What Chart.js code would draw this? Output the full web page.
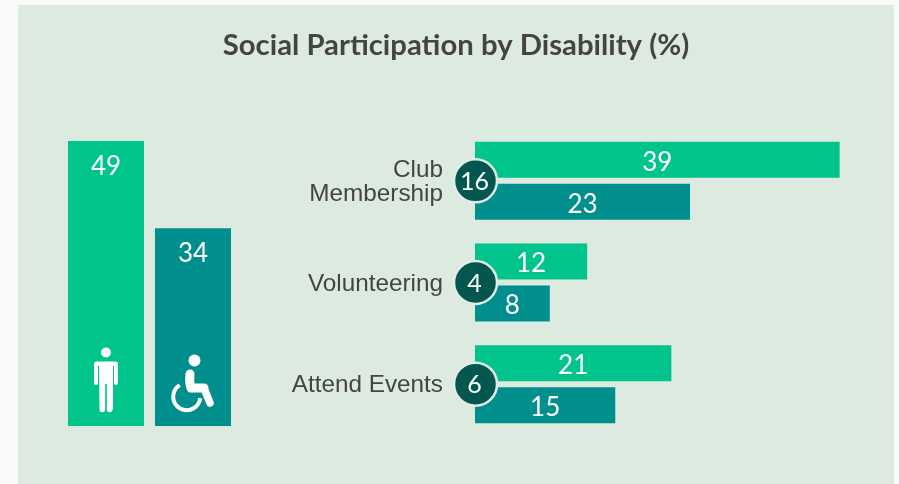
<!DOCTYPE html>
<html><head><meta charset="utf-8">
<style>
html,body{margin:0;padding:0;width:899px;height:484px;overflow:hidden;background:#f9f9f9}
#panel{position:absolute;left:18px;top:5px;width:876px;height:479px;background:#ddeae0}
canvas{position:absolute;display:block}
#left{left:18px;top:5px}
#right{left:290px;top:130px}
</style>
<script src="https://cdn.jsdelivr.net/npm/chart.js@4"></script>
</head><body>
<div id="panel"></div>
<canvas id="left" width="876" height="479"></canvas>
<canvas id="right" width="559" height="305"></canvas>
<script>
const titleText = "Social Participation by Disability (%)";
const groupNames = ["Without disability", "With disability"];
const overallValues = [49, 34];
const categories = [["Club", "Membership"], "Volunteering", "Attend Events"];
const withoutValues = [39, 12, 21];
const withValues = [23, 8, 15];
const bothValues = [16, 4, 6];
const GREEN = "#00c48c", TEAL = "#008f8c", DARK = "#03574f", INK = "#444444";
const LABEL_FONT = "26px Lato";
const BADGE_FONT = "25px Lato";

function centeredText(ctx, text, x, y, font, color) {
  ctx.save();
  ctx.font = font; ctx.fillStyle = color;
  ctx.textAlign = "center"; ctx.textBaseline = "middle";
  ctx.fillText(text, x, y);
  ctx.restore();
}

function drawPerson(ctx, cx, base) {
  ctx.save();
  ctx.fillStyle = "#fff"; ctx.strokeStyle = "#fff"; ctx.lineCap = "round"; ctx.lineJoin = "round";
  ctx.beginPath(); ctx.arc(cx, base - 73.5, 5, 0, Math.PI * 2); ctx.fill();
  ctx.beginPath();
  ctx.moveTo(cx - 9.5, base - 64.5);
  ctx.lineTo(cx + 9.5, base - 64.5);
  ctx.quadraticCurveTo(cx + 12, base - 64.5, cx + 12, base - 62);
  ctx.lineTo(cx + 12, base - 43);
  ctx.arc(cx + 10, base - 43, 2, 0, Math.PI);
  ctx.lineTo(cx + 8, base - 60);
  ctx.lineTo(cx + 7, base - 60);
  ctx.lineTo(cx + 7, base - 16.5);
  ctx.arc(cx + 3.7, base - 16.5, 2.8, 0, Math.PI);
  ctx.lineTo(cx + 0.8, base - 42);
  ctx.lineTo(cx - 0.8, base - 42);
  ctx.lineTo(cx - 0.8, base - 16.5);
  ctx.arc(cx - 3.7, base - 16.5, 2.8, 0, Math.PI);
  ctx.lineTo(cx - 7, base - 60);
  ctx.lineTo(cx - 8, base - 60);
  ctx.lineTo(cx - 8, base - 43);
  ctx.arc(cx - 10, base - 43, 2, 0, Math.PI);
  ctx.lineTo(cx - 12, base - 62);
  ctx.quadraticCurveTo(cx - 12, base - 64.5, cx - 9.5, base - 64.5);
  ctx.closePath(); ctx.fill();
  ctx.restore();
}

function drawWheelchair(ctx, cx, base) {
  ctx.save();
  ctx.fillStyle = "#fff"; ctx.strokeStyle = "#fff"; ctx.lineCap = "round"; ctx.lineJoin = "round";
  ctx.beginPath(); ctx.arc(cx + 1.5, base - 65.5, 6, 0, Math.PI * 2); ctx.fill();
  ctx.lineWidth = 9;
  ctx.beginPath();
  ctx.moveTo(cx - 3, base - 52);
  ctx.quadraticCurveTo(cx - 4, base - 44, cx - 2, base - 38);
  ctx.lineTo(cx + 11, base - 38);
  ctx.stroke();
  ctx.lineWidth = 7.5;
  ctx.beginPath();
  ctx.moveTo(cx + 11, base - 38);
  ctx.lineTo(cx + 17, base - 23);
  ctx.stroke();
  ctx.lineWidth = 4; ctx.lineCap = "butt";
  ctx.beginPath();
  ctx.arc(cx - 6.3, base - 29.3, 13.5, -121 * Math.PI / 180, 6 * Math.PI / 180, true);
  ctx.stroke();
  ctx.restore();
}

const leftMarks = {
  id: "leftMarks",
  afterDatasetsDraw(chart) {
    const ctx = chart.ctx;
    chart.getDatasetMeta(0).data.forEach((bar, i) => {
      centeredText(ctx, String(overallValues[i]), bar.x, bar.y + 25.5, LABEL_FONT, "#fff");
      (i === 0 ? drawPerson : drawWheelchair)(ctx, bar.x, bar.base);
    });
  }
};

const rightMarks = {
  id: "rightMarks",
  afterDatasetsDraw(chart) {
    const ctx = chart.ctx;
    [withoutValues, withValues].forEach((vals, d) => {
      chart.getDatasetMeta(d).data.forEach((bar, i) => {
        centeredText(ctx, String(vals[i]), (bar.x + bar.base) / 2, bar.y + 2.5, LABEL_FONT, "#fff");
      });
    });
    bothValues.forEach((v, i) => {
      const x = chart.scales.x.getPixelForValue(0) + 0.5;
      const y = chart.scales.y.getPixelForValue(i);
      ctx.save();
      ctx.beginPath(); ctx.arc(x, y, 21.5, 0, Math.PI * 2);
      ctx.fillStyle = DARK; ctx.fill();
      ctx.lineWidth = 2.5; ctx.strokeStyle = "#e2ede5"; ctx.stroke();
      ctx.restore();
      centeredText(ctx, String(v), x - 1, y + 1, BADGE_FONT, "#fff");
    });
  }
};

new Chart(document.getElementById("left"), {
  type: "bar",
  data: {
    labels: groupNames,
    datasets: [{ data: overallValues, backgroundColor: [GREEN, TEAL], borderWidth: 0,
      categoryPercentage: 1, barPercentage: 76 / 87 }]
  },
  plugins: [leftMarks],
  options: {
    responsive: false, animation: false,
    layout: { padding: { bottom: 58 } },
    plugins: {
      legend: { display: false }, tooltip: { enabled: false },
      title: { display: true, text: titleText, color: INK,
        font: { family: "Lato", size: 29.3, weight: "bold" }, padding: { top: 23, bottom: 77.8 } }
    },
    scales: {
      x: { display: false },
      y: { min: 0, max: 49, position: "left", border: { display: false },
        grid: { display: false }, ticks: { display: false },
        afterFit(s) { s.width = 44.5; } },
      spacer: { type: "linear", position: "right", border: { display: false },
        grid: { display: false }, ticks: { display: false },
        afterFit(s) { s.width = 657.5; } }
    }
  }
});

new Chart(document.getElementById("right"), {
  type: "bar",
  data: {
    labels: categories,
    datasets: [
      { label: groupNames[0], data: withoutValues, backgroundColor: GREEN, borderWidth: 0,
        categoryPercentage: 84 / 101.67, barPercentage: 36 / 42 },
      { label: groupNames[1], data: withValues, backgroundColor: TEAL, borderWidth: 0,
        categoryPercentage: 84 / 101.67, barPercentage: 36 / 42 }
    ]
  },
  plugins: [rightMarks],
  options: {
    indexAxis: "y", responsive: false, animation: false,
    layout: { padding: 0 },
    plugins: { legend: { display: false }, tooltip: { enabled: false } },
    scales: {
      x: { display: false, min: 0, max: 40 },
      y: { border: { display: false }, grid: { display: false, drawTicks: false },
        ticks: { color: INK, padding: 32, autoSkip: false, labelOffset: 1.5,
          font: { family: "Liberation Sans", size: 24.3, lineHeight: 1.02 } },
        afterFit(s) { s.width = 185; s.paddingTop = 0; s.paddingBottom = 0; } }
    }
  }
});
</script>
</body></html>
